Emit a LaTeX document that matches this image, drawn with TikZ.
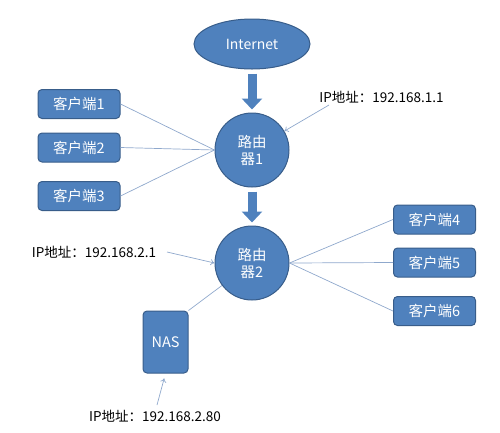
\documentclass[tikz,border=0pt]{standalone}
\usepackage{fontspec}
\setmainfont{Noto Sans CJK SC}
\usetikzlibrary{arrows.meta,shapes.geometric}
\definecolor{boxblue}{HTML}{4F81BD}
\definecolor{boxedge}{HTML}{385D8A}
\definecolor{wireblue}{HTML}{8FA8CC}
\begin{document}
\begin{tikzpicture}[x=1pt,y=-1pt,
    dev/.style={draw=boxedge, fill=boxblue, text=white, rounded corners=4pt, line width=1pt,
        minimum width=82pt, minimum height=29pt, font=\fontsize{14.5}{16}\selectfont},
    router/.style={circle, draw=boxedge, fill=boxblue, text=white, line width=1pt,
        minimum size=74pt, inner sep=0pt, align=center, font=\fontsize{14.5}{17}\selectfont},
    wire/.style={draw=wireblue, line width=0.7pt},
    pointer/.style={draw=wireblue, line width=0.7pt, -{To[length=4pt,width=6pt]}},
    flow/.style={draw=boxblue, line width=9pt, -{Triangle[width=20pt,length=11pt]}},
    ipnote/.style={inner sep=0pt, font=\fontsize{13.5}{15}\selectfont}]
    \useasboundingbox (0,0) rectangle (500,432);
    \node[ellipse, draw=boxedge, fill=boxblue, text=white, line width=1pt,
        minimum width=116pt, minimum height=50pt, font=\fontsize{14}{16}\selectfont] (inet) at (252,44) {Internet};
    \node[router] (r1) at (252,150) {路由\\器1};
    \node[router] (r2) at (252,263) {路由\\器2};
    \node[dev] (c1) at (79,104) {客户端1};
    \node[dev] (c2) at (79,147.5) {客户端2};
    \node[dev] (c3) at (79,196) {客户端3};
    \node[dev] (c4) at (434.5,219.5) {客户端4};
    \node[dev] (c5) at (434.5,262.5) {客户端5};
    \node[dev] (c6) at (434.5,311) {客户端6};
    \node[dev, minimum width=45pt, minimum height=62pt] (nas) at (165.5,342) {NAS};
    \node[ipnote] (ip1) at (381.5,97) {IP地址：192.168.1.1};
    \node[ipnote] (ip2) at (94,252) {IP地址：192.168.2.1};
    \node[ipnote] (ip3) at (155,416) {IP地址：192.168.2.80};
    \coordinate (ip1tail) at (329,105);
    \coordinate (ip2tail) at (167,252);
    \coordinate (ip3tail) at (157,405);
    \draw[flow, shorten <=4pt, shorten >=3pt] (inet) -- (r1);
    \draw[flow, shorten <=4pt, shorten >=3pt] (r1) -- (r2);
    \foreach \c in {c1,c2,c3}
        \draw[wire] (\c.east) -- (r1.west);
    \foreach \c in {c4,c5,c6}
        \draw[wire] (r2.east) -- (\c.west);
    \draw[wire] (nas.north east) -- (r2);
    \draw[pointer] (ip1tail) -- (r1);
    \draw[pointer] (ip2tail) -- (r2.west);
    \draw[pointer, shorten >=5pt] (ip3tail) -- (nas.south);
\end{tikzpicture}
\end{document}
